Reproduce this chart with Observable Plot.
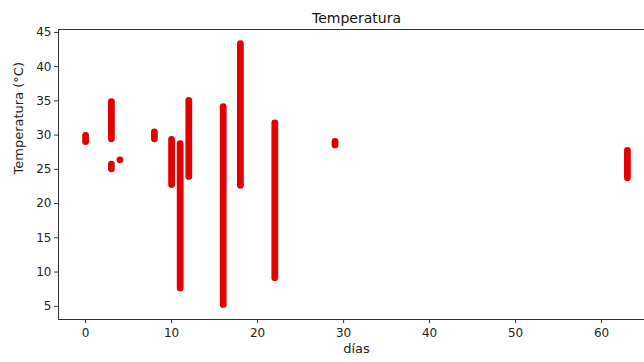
<!DOCTYPE html>
<html>
<head>
<meta charset="utf-8">
<script src="https://cdn.jsdelivr.net/npm/d3@7"></script>
<script src="https://cdn.jsdelivr.net/npm/@observablehq/plot@0.6"></script>
<style>
  html, body { margin: 0; padding: 0; background: #fff; overflow: hidden; width: 644px; height: 362px; }
  #chart svg { display: block; max-width: none !important; }
</style>
</head>
<body>
<div id="chart"></div>
<script>
// Vertical runs of readings per day (min and max temperature observed)
const segDay = [0, 3, 3, 8, 10, 11, 12, 16, 18, 22, 29, 63];
const segLo  = [29.0, 29.4, 25.0, 29.4, 22.7, 7.6, 23.9, 5.2, 22.6, 9.1, 28.5, 23.7];
const segHi  = [29.9, 34.8, 25.7, 30.4, 29.3, 28.7, 35.0, 34.1, 43.3, 31.7, 29.0, 27.7];
// Isolated single readings
const dotDay  = [4];
const dotTemp = [26.4];

const xTicks = [0, 10, 20, 30, 40, 50, 60];
const yTicks = [5, 10, 15, 20, 25, 30, 35, 40, 45];

const title = "Temperatura";
const xLabel = "días";
const yLabel = "Temperatura (°C)";

const segs = segDay.map((d, i) => ({day: d, lo: segLo[i], hi: segHi[i]}));
const dots = dotDay.map((d, i) => ({day: d, t: dotTemp[i]}));

const red = "#e50000";
const axisColor = "#333";

const chart = Plot.plot({
  width: 660,
  height: 362,
  marginLeft: 58,
  marginRight: 6,
  marginTop: 29,
  marginBottom: 43,
  style: {fontFamily: "DejaVu Sans", fontSize: "12px", color: "#222", background: "#fff", maxWidth: "none"},
  x: {domain: [-3.15, 66.15]},
  y: {domain: [3.07, 45.43]},
  marks: [
    Plot.frame({stroke: axisColor, strokeWidth: 1}),
    Plot.ruleX(segs, {x: "day", y1: "lo", y2: "hi", stroke: red, strokeWidth: 6.8, strokeLinecap: "round"}),
    Plot.dot(dots, {x: "day", y: "t", r: 3.4, fill: red, stroke: "none"}),
    Plot.axisX({ticks: xTicks, tickSize: 4, tickPadding: 5, stroke: axisColor, fontSize: 12, label: null}),
    Plot.axisY({ticks: yTicks, tickSize: 4, tickPadding: 3, stroke: axisColor, fontSize: 12, label: null}),
    Plot.text([xLabel], {frameAnchor: "bottom", dy: 33, fontSize: 13, fill: "#222"}),
    Plot.text([yLabel], {frameAnchor: "left", dx: -40, rotate: -90, fontSize: 13, fill: "#222"}),
    Plot.text([title], {frameAnchor: "top", dy: -16, fontSize: 14, fill: "#111"})
  ]
});
document.getElementById("chart").appendChild(chart);
</script>
</body>
</html>
